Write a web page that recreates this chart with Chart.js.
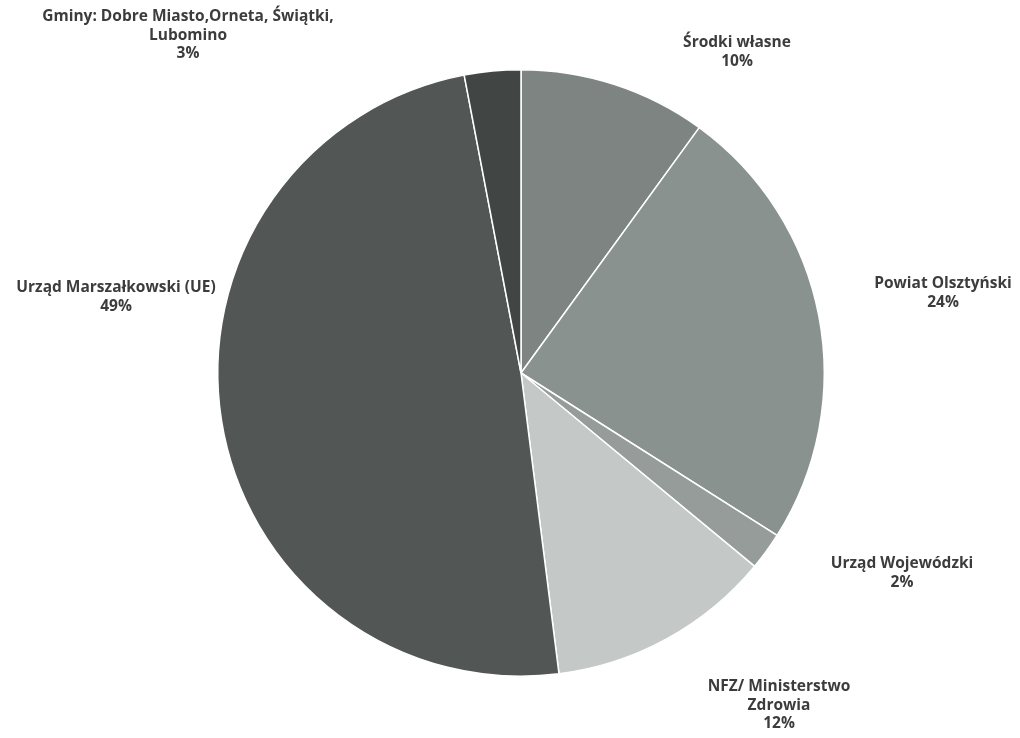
<!DOCTYPE html>
<html>
<head>
<meta charset="utf-8">
<script src="https://cdn.jsdelivr.net/npm/chart.js@4/dist/chart.umd.min.js"></script>
<style>
  html, body { margin: 0; padding: 0; background: #ffffff; }
  #wrap { width: 1020px; height: 738px; }
</style>
</head>
<body>
<div id="wrap"><canvas id="c" width="1020" height="738"></canvas></div>
<script>
// Data (clockwise from 12 o'clock)
const categories = [
  ["Środki własne"],
  ["Powiat Olsztyński"],
  ["Urząd Wojewódzki"],
  ["NFZ/ Ministerstwo", "Zdrowia"],
  ["Urząd Marszałkowski (UE)"],
  ["Gminy: Dobre Miasto,Orneta, Świątki,", "Lubomino"]
];
const values = [10, 24, 2, 12, 49, 3];
const percentLabels = ["10%", "24%", "2%", "12%", "49%", "3%"];

// Styles / layout
const colors = ["#7d8482", "#8a9290", "#969c9a", "#c4c8c7", "#525755", "#414644"];
const labelCenters = [[737, 43], [943, 284], [902, 564], [779, 687], [116, 288], [188, 17]];

const labelPlugin = {
  id: 'outLabels',
  afterDraw(chart) {
    const ctx = chart.ctx;
    ctx.save();
    ctx.font = 'bold 15.5px "Open Sans", Lato, sans-serif';
    ctx.fillStyle = '#3c3c3c';
    ctx.textAlign = 'center';
    ctx.textBaseline = 'middle';
    const lh = 18.5;
    categories.forEach((lines, i) => {
      const [x, y] = labelCenters[i];
      const all = lines.concat([percentLabels[i]]);
      all.forEach((t, j) => ctx.fillText(t, x, y + j * lh));
    });
    ctx.restore();
  }
};

new Chart(document.getElementById('c'), {
  type: 'pie',
  data: {
    labels: categories.map(c => c.join(' ')),
    datasets: [{
      data: values,
      backgroundColor: colors,
      borderColor: '#ffffff',
      borderWidth: 1.5
    }]
  },
  options: {
    responsive: false,
    animation: false,
    layout: { padding: { left: 217, right: 195, top: 69, bottom: 61 } },
    plugins: {
      legend: { display: false },
      tooltip: { enabled: false },
      title: { display: false }
    }
  },
  plugins: [labelPlugin]
});
</script>
</body>
</html>
